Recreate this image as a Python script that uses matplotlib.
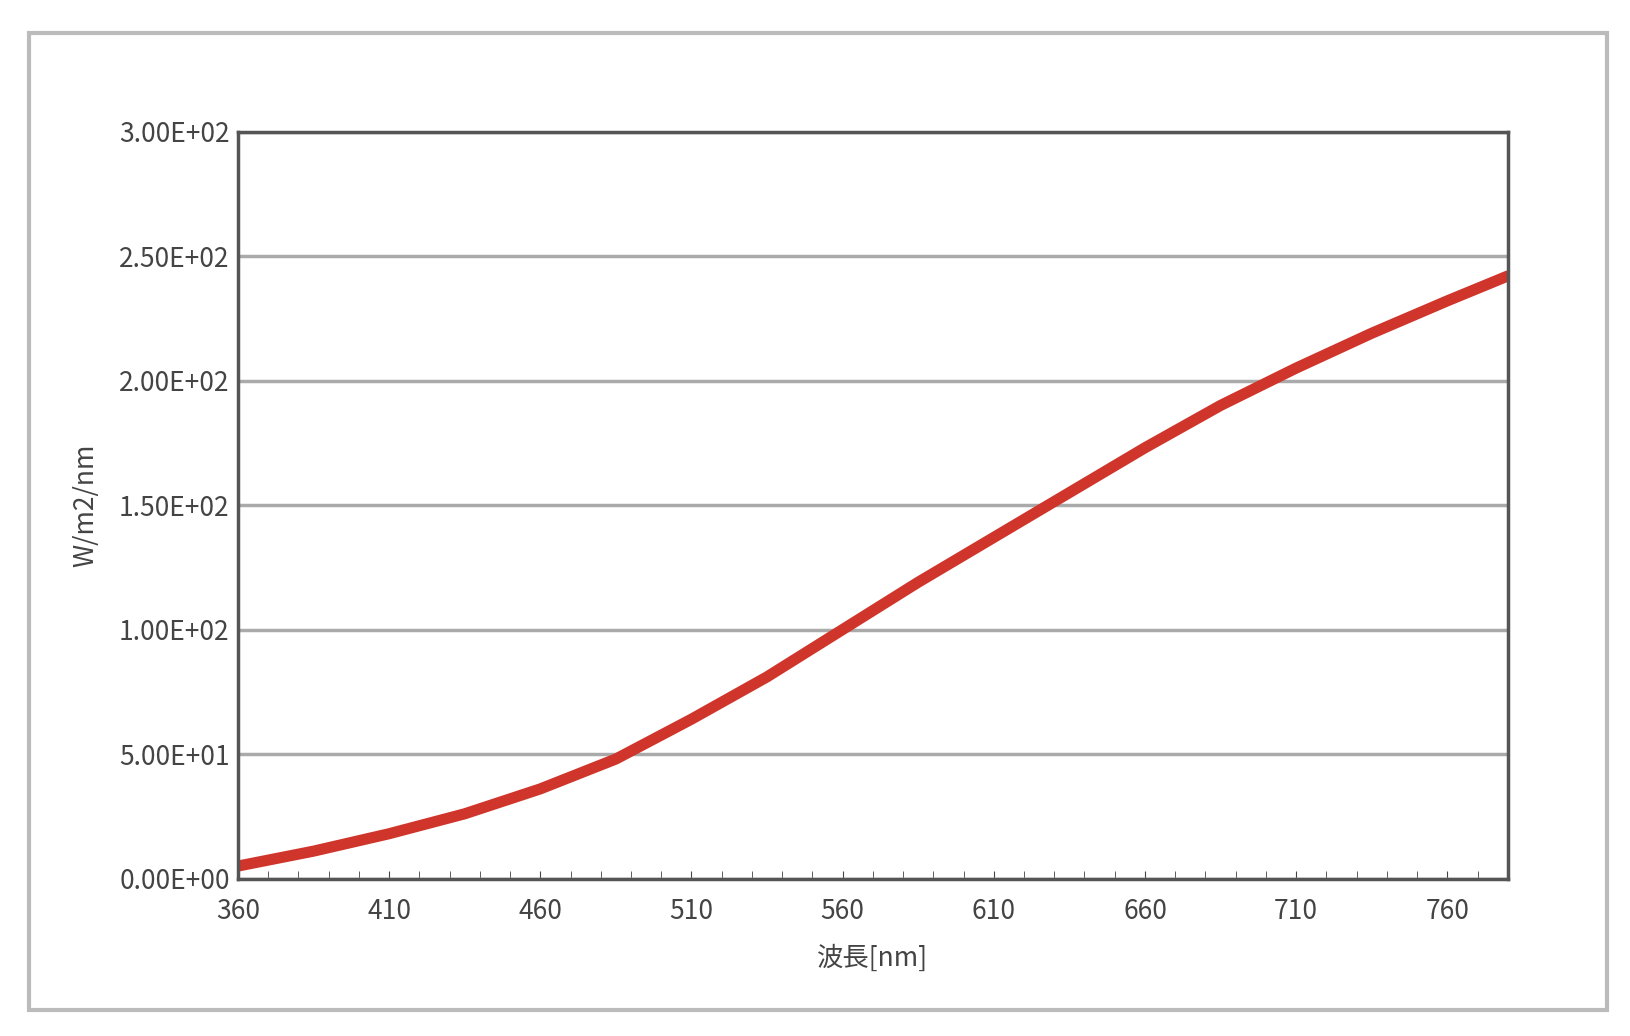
import matplotlib
matplotlib.use("Agg")
import matplotlib.pyplot as plt
from matplotlib.patches import Rectangle
from matplotlib.ticker import FuncFormatter, MultipleLocator

wavelength = [360, 385, 410, 435, 460, 485, 510, 535, 560, 585, 610, 635, 660, 685, 710, 735, 760, 780]
irradiance = [5, 11, 18, 26, 36, 48, 64, 81, 100, 119, 137, 155, 173, 190, 205, 219, 232, 242]
xticks = [360, 410, 460, 510, 560, 610, 660, 710, 760]
yticks = [0, 50, 100, 150, 200, 250, 300]

plt.rcParams['font.family'] = ['Noto Sans CJK JP', 'DejaVu Sans']
fig = plt.figure(figsize=(16.3, 10.36), dpi=100)
fig.patches.append(Rectangle((0.018, 0.025), 0.968, 0.943, transform=fig.transFigure,
                             fill=False, edgecolor='#bbbbbb', linewidth=3))
ax = fig.add_axes([0.146, 0.152, 0.779, 0.721])
ax.plot(wavelength, irradiance, color='#d0352b', linewidth=8, solid_capstyle='round')
ax.set_xlim(360, 780)
ax.set_ylim(0, 300)
ax.set_xticks(xticks)
ax.xaxis.set_minor_locator(MultipleLocator(10))
ax.set_yticks(yticks)
ax.yaxis.set_major_formatter(FuncFormatter(lambda v, p: f"{v:.2E}"))
ax.grid(axis='y', color='#aaaaaa', linewidth=2.5)
for s in ax.spines.values():
    s.set_color('#555555'); s.set_linewidth(2.5)
ax.tick_params(axis='x', which='both', direction='in', length=6, labelsize=19, colors='#444444', pad=14)
ax.tick_params(axis='y', length=0, labelsize=19, colors='#444444', pad=6)
ax.set_xlabel('波長[nm]', fontsize=19, color='#444444', labelpad=14)
ax.set_ylabel('W/m2/nm', fontsize=19, color='#444444', labelpad=14)
fig.savefig('out.png')
